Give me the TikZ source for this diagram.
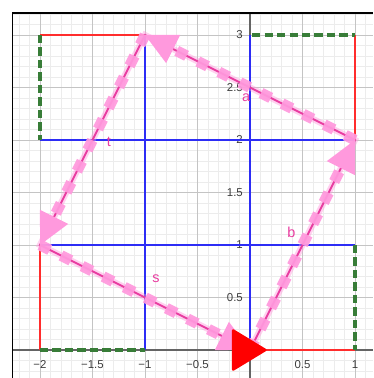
\documentclass[tikz,border=0pt]{standalone}
\usepackage{fontspec}
\setmainfont{Liberation Sans}
\usetikzlibrary{calc}
\definecolor{gmajor}{RGB}{196,196,196}
\definecolor{gminor}{RGB}{236,236,236}
\definecolor{axisc}{RGB}{100,100,100}
\definecolor{bluel}{RGB}{45,45,245}
\definecolor{redl}{RGB}{255,45,45}
\definecolor{greenl}{RGB}{56,125,56}
\definecolor{pinkl}{RGB}{255,153,221}
\definecolor{magl}{RGB}{232,60,160}
\definecolor{tickc}{RGB}{60,60,60}
\begin{document}
\begin{tikzpicture}[x=2.1cm,y=2.1cm,
 minorgrid/.style={gminor,line width=0.4pt},
 majorgrid/.style={gmajor,line width=0.55pt},
 axisline/.style={axisc,line width=0.6pt},
 frameline/.style={black,line width=0.9pt},
 blueseg/.style={bluel,line width=1.1pt},
 redseg/.style={redl,line width=1.1pt},
 greenseg/.style={greenl,line width=2.3pt,dash pattern=on 4.7pt off 2.4pt},
 pinkhalo/.style={pinkl,line width=3.5pt,opacity=0.45},
 pinkdash/.style={pinkl,line width=6.2pt,dash pattern=on 6.2pt off 7.2pt,opacity=0.93},
 pinkline/.style={magl,line width=1.1pt},
 pinkhead/.style={fill=pinkl},
 ticklab/.style={text=tickc,font=\fontsize{6.5}{7}\selectfont,inner sep=0pt},
 seglab/.style={text=magl,font=\fontsize{8.2}{9}\selectfont,inner sep=0pt},
]
\useasboundingbox (-2.381,-0.2667) rectangle (1.1714,3.3333);
% grid
\foreach \i in {-22,...,11} \draw[minorgrid] (\i/10,-0.2667) -- (\i/10,3.212);
\foreach \i in {-2,...,32} \draw[minorgrid] (-2.26,\i/10) -- (1.1714,\i/10);
\foreach \x in {-2,-1.5,...,1} \draw[majorgrid] (\x,-0.2667) -- (\x,3.212);
\foreach \y in {0,0.5,...,3} \draw[majorgrid] (-2.26,\y) -- (1.1714,\y);
% axes and frame
\draw[axisline] (-2.26,0) -- (1.1714,0);
\draw[axisline] (0,-0.2667) -- (0,3.212);
\draw[frameline] (-2.26,-0.2667) -- (-2.26,3.212) -- (1.1714,3.212);
% tick labels
\node[ticklab] (xl1) at (-2,-0.135) {−2};
\node[ticklab] (xl2) at (-1.5,-0.135) {−1.5};
\node[ticklab] (xl3) at (-1,-0.135) {−1};
\node[ticklab] (xl4) at (-0.5,-0.135) {−0.5};
\node[ticklab] (xl5) at (0.5,-0.135) {0.5};
\node[ticklab] (xl6) at (1,-0.135) {1};
\node[ticklab,anchor=east] (yl1) at (-0.065,0.5) {0.5};
\node[ticklab,anchor=east] (yl2) at (-0.065,1) {1};
\node[ticklab,anchor=east] (yl3) at (-0.065,1.5) {1.5};
\node[ticklab,anchor=east] (yl4) at (-0.065,2) {2};
\node[ticklab,anchor=east] (yl5) at (-0.065,2.5) {2.5};
\node[ticklab,anchor=east] (yl6) at (-0.065,3) {3};
% blue lines
\draw[blueseg] (-2,2) -- (1,2);
\draw[blueseg] (-2,1) -- (1,1);
\draw[blueseg] (-1,0) -- (-1,3);
\draw[blueseg] (0,0) -- (0,3);
% red lines
\draw[redseg] (-2,3) -- (-1,3);
\draw[redseg] (1,3) -- (1,2);
\draw[redseg] (-2,1) -- (-2,0);
\draw[redseg] (0,0) -- (1,0);
% green dashed lines
\draw[greenseg] (-2,3) -- (-2,2);
\draw[greenseg] (0.02,3) -- (1,3);
\draw[greenseg] (-2,0) -- (-1,0);
\draw[greenseg] (1,1) -- (1,0);
% pink square
\coordinate (A) at (0,0);
\coordinate (B) at (1,2);
\coordinate (C) at (-1,3);
\coordinate (D) at (-2,1);
\draw[pinkhalo] (D) -- (A) -- (B) -- (C) -- cycle;
\draw[pinkline] (D) -- (A) -- (B) -- (C) -- cycle;
\draw[pinkdash] (D) -- (A);
\draw[pinkdash] (A) -- (B);
\draw[pinkdash] (B) -- (C);
\draw[pinkdash] (C) -- (D);
\fill[pinkhead] (A) -- ($(A)!0.704cm!26.57:(D)$) -- ($(A)!0.704cm!-26.57:(D)$) -- cycle;
\fill[pinkhead] (B) -- ($(B)!0.704cm!26.57:(A)$) -- ($(B)!0.704cm!-26.57:(A)$) -- cycle;
\fill[pinkhead] (C) -- ($(C)!0.704cm!26.57:(B)$) -- ($(C)!0.704cm!-26.57:(B)$) -- cycle;
\fill[pinkhead] (D) -- ($(D)!0.704cm!26.57:(C)$) -- ($(D)!0.704cm!-26.57:(C)$) -- cycle;
% labels
\node[seglab] (la) at (-0.038,2.40) {a};
\node[seglab] (lb) at (0.393,1.121) {b};
\node[seglab] (ls) at (-0.895,0.676) {s};
\node[seglab] (lt) at (-1.345,1.985) {t};
% red point
\filldraw[red,line width=1.5pt,line join=round] ($(A)+(-0.16,0.185)$) -- ($(A)+(0.145,0)$) -- ($(A)+(-0.16,-0.185)$) -- cycle;
\end{tikzpicture}
\end{document}
